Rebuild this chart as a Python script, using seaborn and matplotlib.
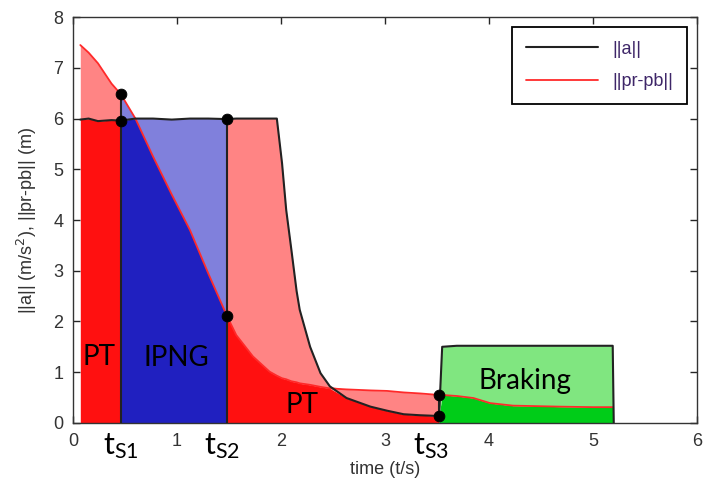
import numpy as np
import pandas as pd
import seaborn as sns
import matplotlib.pyplot as plt
import matplotlib.transforms as mtransforms

# ---------------- data ----------------
time = [0.07, 0.15, 0.24, 0.37, 0.46, 0.60, 0.77, 0.95, 1.125, 1.30, 1.48,
        1.57, 1.73, 1.89, 1.96, 2.01, 2.05, 2.10, 2.15, 2.18, 2.28, 2.38,
        2.47, 2.63, 2.86, 3.02, 3.18, 3.34, 3.46, 3.52, 3.55, 3.69, 3.85,
        4.01, 4.23, 4.68, 5.00, 5.19, 5.20]
accel = [5.98, 6.00, 5.95, 5.97, 5.96, 6.00, 6.00, 5.98, 6.00, 6.00, 5.99,
         6.00, 6.00, 6.00, 6.00, 5.12, 4.20, 3.41, 2.60, 2.23, 1.50, 0.98,
         0.72, 0.49, 0.32, 0.24, 0.17, 0.15, 0.14, 0.14, 1.50, 1.52, 1.52,
         1.52, 1.52, 1.52, 1.52, 1.52, 0.00]
dist = [7.45, 7.30, 7.09, 6.69, 6.48, 6.00, 5.25, 4.50, 3.80, 2.95, 2.11,
        1.73, 1.31, 1.01, 0.93, 0.88, 0.86, 0.82, 0.80, 0.78, 0.75, 0.71,
        0.68, 0.66, 0.64, 0.63, 0.60, 0.58, 0.56, 0.55, 0.55, 0.53, 0.49,
        0.39, 0.34, 0.32, 0.31, 0.31, 0.31]

phase_bounds = [0.07, 0.46, 1.48, 3.52, 5.19]
phase_names = ["PT", "IPNG", "PT", "Braking"]
switch_labels = ["S1", "S2", "S3"]
phase_dark = ["#FF1010", "#2020C0", "#FF1010", "#00CC18"]
phase_light = ["#FF8484", "#8080DC", "#FF8484", "#80E680"]

x_ticks = [0, 1, 2, 3, 4, 5, 6]
y_ticks = [0, 1, 2, 3, 4, 5, 6, 7, 8]

# ---------------- figure ----------------
sns.set_style("ticks")
plt.rcParams['font.family'] = ['Liberation Sans', 'DejaVu Sans']
plt.rcParams['mathtext.fontset'] = 'dejavusans'

fig = plt.figure(figsize=(7.09, 4.90), dpi=100)
ax = fig.add_axes([0.103, 0.137, 0.880, 0.828])

t = np.array(time)
a = np.array(accel)
p = np.array(dist)
lo_v = np.minimum(a, p)
hi_v = np.maximum(a, p)

for i in range(len(phase_names)):
    m = (t >= phase_bounds[i]) & (t <= phase_bounds[i + 1])
    ax.fill_between(t[m], 0, lo_v[m], color=phase_dark[i], lw=0, zorder=1)
    ax.fill_between(t[m], lo_v[m], hi_v[m], color=phase_light[i], lw=0, zorder=1)

df = pd.DataFrame({"t": t, "a": a, "p": p})
dp = df[df.t <= phase_bounds[-1]]
sns.lineplot(data=dp, x="t", y="p", color="#FF2A2A", lw=1.3, sort=False,
             estimator=None, ax=ax, label="||pr-pb||", zorder=3)
sns.lineplot(data=df, x="t", y="a", color="#222222", lw=1.5, sort=False,
             estimator=None, ax=ax, label="||a||", zorder=4)

# switching boundaries and dots
for k, b in enumerate(phase_bounds[1:4]):
    idx = int(np.argmin(np.abs(t - b)))
    top = max(a[idx], p[idx])
    bot = 0 if k < 2 else min(a[idx], p[idx])
    ax.vlines(b, bot, top, color="#222222", lw=1.5, zorder=4)
    sns.scatterplot(x=[b, b], y=[a[idx], p[idx]], color="black", s=60,
                    edgecolor="black", zorder=5, ax=ax, legend=False)

# legend (||a|| first)
h, l = ax.get_legend_handles_labels()
order = [l.index("||a||"), l.index("||pr-pb||")]
leg = ax.legend([h[o] for o in order], [l[o] for o in order],
                loc="upper right", fontsize=13, handlelength=4.0,
                borderaxespad=0.55, fancybox=False, framealpha=1,
                edgecolor="black", borderpad=0.75, labelspacing=0.85,
                handletextpad=0.8)
leg.get_frame().set_linewidth(1.3)
for txt in leg.get_texts():
    txt.set_color("#3E2668")

# phase labels
label_pos = [(0.25, 1.3), (0.99, 1.27), (2.2, 0.35), (4.35, 0.82)]
for name, (x, y) in zip(phase_names, label_pos):
    ax.text(x, y, name, fontsize=20, family=["Lato", "DejaVu Sans"],
            ha="center", va="center", color="black", zorder=6)

# switching time labels under axis
trans = mtransforms.blended_transform_factory(ax.transData, ax.transAxes)
for b, s, off in zip(phase_bounds[1:4], switch_labels, [0.0, -0.05, -0.08]):
    ax.text(b + off, -0.02, r"$\mathregular{t_{%s}}$" % s, transform=trans,
            fontsize=22, family=["Lato", "DejaVu Sans"], ha="center",
            va="top", color="black", clip_on=False)

ax.set_xlim(0, 6)
ax.set_ylim(0, 8)
ax.set_xticks(x_ticks)
ax.set_yticks(y_ticks)
ax.tick_params(direction="in", top=True, right=True, length=5, width=1,
               labelsize=13, labelcolor="#333333", pad=7)
for sp in ax.spines.values():
    sp.set_color("#333333")
    sp.set_linewidth(1.0)
ax.set_xlabel("time (t/s)", fontsize=13, color="#333333", labelpad=8)
ax.set_ylabel("||a|| (m/s$^2$), ||pr-pb|| (m)", fontsize=13, color="#333333",
              labelpad=10)

fig.savefig("out.png", dpi=100)
